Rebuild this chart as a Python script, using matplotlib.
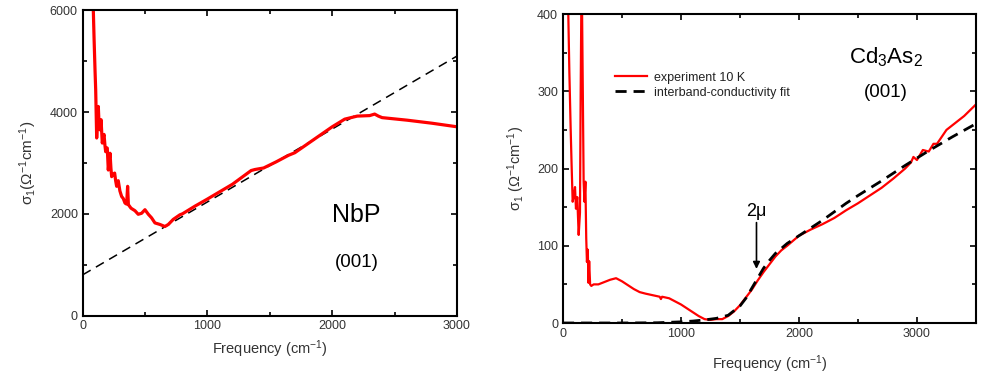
import matplotlib
matplotlib.use("Agg")
import matplotlib.pyplot as plt
from matplotlib.ticker import MultipleLocator

plt.rcParams['font.family'] = ['Liberation Sans', 'DejaVu Sans']
plt.rcParams['mathtext.default'] = 'regular'

# ---- NbP data ----
nbp_freq = [85, 91, 99, 104, 112, 118, 125, 132, 139, 147, 157, 164, 171, 178, 184, 191,
            197, 205, 212, 219, 226, 232, 244, 256, 264, 272, 279, 285, 298, 312, 325,
            339, 352, 360, 366, 387, 419, 445, 472, 499, 526, 552,
            579, 619, 659, 686, 726, 779, 800, 900, 1000, 1200, 1350, 1380, 1450, 1550,
            1650, 1700, 1800, 1900, 2000, 2100, 2200, 2300, 2340, 2370, 2400, 2600, 2800, 3000]
nbp_sigma = [6000, 5450, 4800, 4440, 3490, 3800, 4110, 3700, 3650, 3850, 3390, 3500, 3560,
             3350, 3220, 3300, 3290, 2860, 3050, 3190, 2900, 2730, 2780, 2800, 2650, 2540,
             2620, 2650, 2450, 2340, 2300, 2210, 2190, 2540, 2180, 2110, 2060,
             1990, 2010, 2080, 1990, 1920, 1820, 1790, 1750, 1790, 1890, 1980, 2000, 2150,
             2290, 2580, 2850, 2870, 2900, 3020, 3150, 3200, 3370, 3540, 3710, 3860, 3920,
             3930, 3960, 3920, 3890, 3840, 3780, 3710]
nbp_fit_freq = [0, 3000]
nbp_fit_sigma = [800, 5100]

# ---- Cd3As2 data ----
cd_freq = [45, 54, 65, 73, 82, 92, 102, 110, 121, 133, 144, 150, 155, 162, 168, 175, 182,
           190, 197, 203, 210, 216, 222, 230, 240, 260, 300, 350, 400, 450, 500, 550, 600,
           650, 700, 760, 820, 830, 840, 900, 950, 1000, 1050, 1100, 1150, 1200, 1250,
           1300, 1350, 1400, 1450, 1500, 1550, 1600, 1650, 1700, 1750, 1800, 1850, 1900,
           2000, 2100, 2200, 2300, 2400, 2500, 2600, 2700, 2800, 2900, 2950, 2970, 3000,
           3050, 3100, 3140, 3170, 3250, 3400, 3500]
cd_sigma = [400, 325, 252, 205, 157, 165, 176, 148, 163, 114, 143, 300, 400, 400, 300, 183,
            157, 183, 110, 79, 95, 52, 80, 50, 48, 50, 50, 53, 56, 58, 54, 49, 44, 40, 38,
            36, 34, 31, 34, 32, 28, 24, 19, 14, 9, 5, 4, 5, 5, 9, 15, 23, 33, 43, 55, 66,
            76, 86, 94, 100, 113, 121, 128, 136, 146, 155, 165, 175, 187, 200, 208, 215,
            211, 224, 222, 232, 232, 250, 268, 283]
cd_fit_freq = [0, 500, 800, 1000, 1100, 1200, 1300, 1400, 1500, 1550, 1600, 1650, 1700,
               1750, 1800, 1900, 2000, 2200, 2400, 2500, 2700, 2900, 3100, 3300, 3500]
cd_fit_sigma = [0, 0, 0.3, 1.5, 2.5, 4, 6, 10, 22, 32, 45, 58, 71, 81, 90, 103, 113, 133,
                155, 165, 184, 204, 223, 241, 258]

fig = plt.figure(figsize=(9.87, 3.8), dpi=100)
tick_color = '#333333'

def style(ax):
    for s in ax.spines.values():
        s.set_linewidth(1.5)
    ax.tick_params(which='both', direction='in', top=True, right=True,
                   labelsize=9, labelcolor=tick_color, width=1.2)
    ax.tick_params(which='major', length=4.5)
    ax.tick_params(which='minor', length=3)

# Left panel
ax1 = fig.add_axes([0.0838, 0.1697, 0.3792, 0.8032])
ax1.plot(nbp_fit_freq, nbp_fit_sigma, color='black', lw=1.1, ls=(0, (6, 4)))
ax1.plot(nbp_freq, nbp_sigma, color='#ff0000', lw=2.3)
ax1.set_xlim(0, 3000)
ax1.set_ylim(0, 6000)
ax1.xaxis.set_major_locator(MultipleLocator(1000))
ax1.xaxis.set_minor_locator(MultipleLocator(500))
ax1.yaxis.set_major_locator(MultipleLocator(2000))
ax1.yaxis.set_minor_locator(MultipleLocator(1000))
style(ax1)
ax1.set_xlabel('Frequency (cm$^{-1}$)', fontsize=10.5, color=tick_color, labelpad=4)
ax1.set_ylabel('σ$_1$(Ω$^{-1}$cm$^{-1}$)', fontsize=11, color=tick_color, labelpad=8)
ax1.text(2195, 1980, 'NbP', fontsize=18, color='black', ha='center', va='center')
ax1.text(2195, 1050, '(001)', fontsize=13.5, color='black', ha='center', va='center')

# Right panel
ax2 = fig.add_axes([0.5704, 0.150, 0.4184, 0.813])
ax2.plot(cd_freq, cd_sigma, color='#ff0000', lw=1.6, label='experiment 10 K')
ax2.plot(cd_fit_freq, cd_fit_sigma, color='black', lw=2.0, ls=(0, (4, 2.5)),
         label='interband-conductivity fit')
ax2.set_xlim(0, 3500)
ax2.set_ylim(0, 400)
ax2.xaxis.set_major_locator(MultipleLocator(1000))
ax2.xaxis.set_minor_locator(MultipleLocator(500))
ax2.yaxis.set_major_locator(MultipleLocator(100))
ax2.yaxis.set_minor_locator(MultipleLocator(50))
style(ax2)
ax2.set_xlabel('Frequency (cm$^{-1}$)', fontsize=10.5, color=tick_color, labelpad=10)
ax2.set_ylabel('σ$_1$ (Ω$^{-1}$cm$^{-1}$)', fontsize=10.5, color=tick_color, labelpad=7)
leg = ax2.legend(loc='upper left', bbox_to_anchor=(0.115, 0.83), frameon=False,
                 fontsize=9, handlelength=2.5, handletextpad=0.55, labelspacing=0.25,
                 borderaxespad=0)
for t in leg.get_texts():
    t.set_color('#222222')
ax2.text(2740, 344, 'Cd$_3$As$_2$', fontsize=16, color='black', ha='center', va='center')
ax2.text(2740, 299, '(001)', fontsize=13.5, color='black', ha='center', va='center')
ax2.text(1640, 145, '2μ', fontsize=13, color='black', ha='center', va='center')
ax2.annotate('', xy=(1640, 70), xytext=(1640, 130),
             arrowprops=dict(arrowstyle='-|>', color='black', lw=1.2,
                             mutation_scale=10, shrinkA=0, shrinkB=0))

fig.savefig('out.png', dpi=100)
